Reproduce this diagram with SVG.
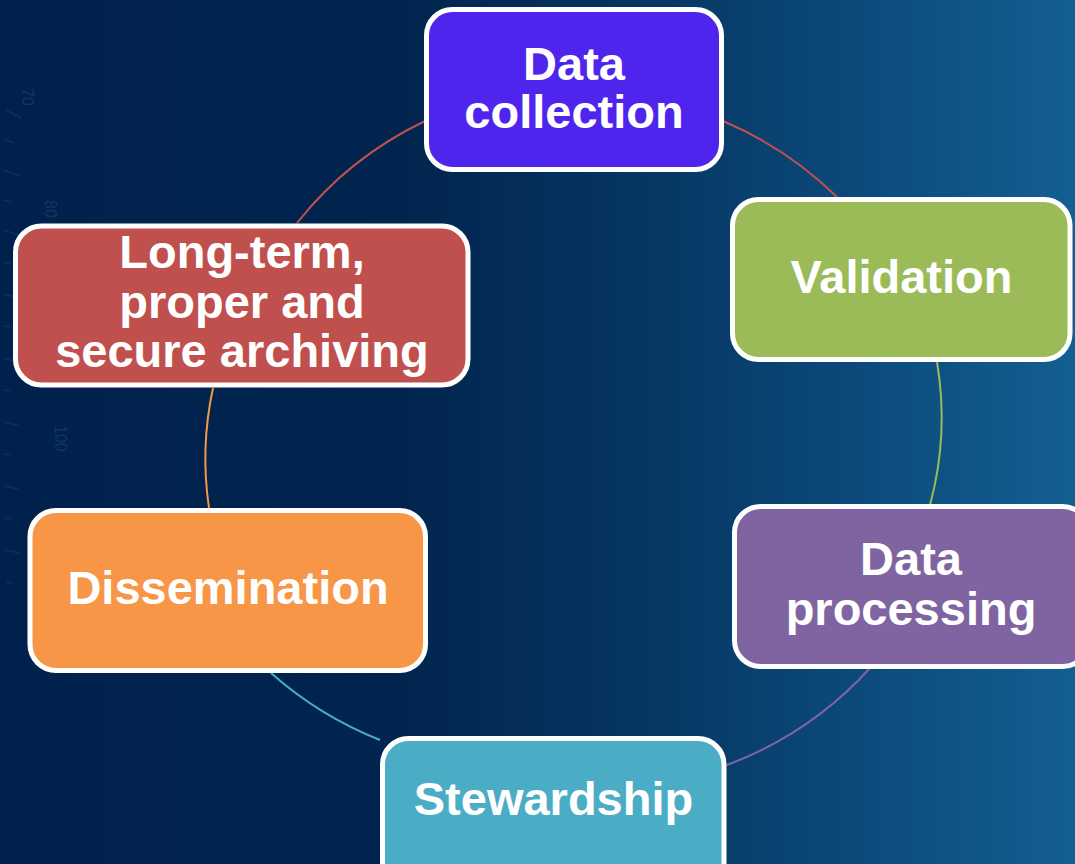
<svg xmlns="http://www.w3.org/2000/svg" width="1075" height="864" viewBox="0 0 1075 864">
  <defs>
    <linearGradient id="bg" x1="0" y1="0" x2="1" y2="0">
      <stop offset="0" stop-color="#00214c"/>
      <stop offset="0.38" stop-color="#01254f"/>
      <stop offset="0.6" stop-color="#063661"/>
      <stop offset="0.82" stop-color="#0c4c7e"/>
      <stop offset="1" stop-color="#135f92"/>
    </linearGradient>
    <style>
      .box { stroke: #ffffff; stroke-width: 5; }
      .lbl { font-family: "Liberation Sans", Arial, sans-serif; font-weight: bold; font-size: 47px; fill: #ffffff; text-anchor: middle; }
      .link { fill: none; stroke-width: 2; }
      .ruler { stroke: #3f6a96; stroke-width: 1.5; opacity: 0.2; }
      .rnum { font-family: "Liberation Sans", Arial, sans-serif; font-size: 16px; fill: #4a73a0; opacity: 0.25; }
    </style>
  </defs>

  <!-- background -->
  <rect x="0" y="0" width="1075" height="864" fill="url(#bg)"/>

  <!-- faint ruler in the background -->
  <g id="ruler">
    <path class="ruler" d="M6 110 L22 118 M5 140 L14 143 M4 170 L20 176 M4 200 L12 202 M3 230 L19 235 M3 262 L11 264 M3 294 L18 298 M3 326 L10 327 M3 358 L18 362 M3 390 L10 391 M3 422 L18 425 M3 454 L10 455 M4 486 L18 489 M4 518 L11 519 M5 550 L19 553 M6 582 L13 583"/>
    <text class="rnum" transform="translate(22 88) rotate(90)">70</text>
    <text class="rnum" transform="translate(45 200) rotate(90)">80</text>
    <text class="rnum" transform="translate(55 425) rotate(90)">100</text>
  </g>

  <!-- connectors around the cycle -->
  <g id="connectors">
    <path class="link" stroke="#c0504d" d="M297 223 A367 350 0 0 1 425 121"/>
    <path class="link" stroke="#c0504d" d="M723 121 A367 350 0 0 1 837 197"/>
    <path class="link" stroke="#9bbb59" d="M937 362 A367 350 0 0 1 930 505"/>
    <path class="link" stroke="#8064a2" d="M870 668 A367 350 0 0 1 727 765"/>
    <path class="link" stroke="#4bacc6" d="M380 740 A367 350 0 0 1 271 673"/>
    <path class="link" stroke="#f79646" d="M209 508 A367 350 0 0 1 213 388"/>
  </g>

  <g id="node-data-collection">
    <rect class="box" x="426.5" y="9.5" width="295" height="160" rx="26" fill="#4f24ec"/>
    <text class="lbl" x="574" y="80">Data</text>
    <text class="lbl" x="574" y="128">collection</text>
  </g>

  <g id="node-validation">
    <rect class="box" x="732.5" y="199.5" width="337.5" height="160" rx="26" fill="#9bbb59"/>
    <text class="lbl" x="901.5" y="293">Validation</text>
  </g>

  <g id="node-data-processing">
    <rect class="box" x="734.5" y="506.5" width="354" height="160" rx="26" fill="#8064a2"/>
    <text class="lbl" x="911" y="575">Data</text>
    <text class="lbl" x="911" y="625">processing</text>
  </g>

  <g id="node-stewardship">
    <rect class="box" x="382.5" y="738.5" width="341.5" height="160" rx="26" fill="#4bacc6"/>
    <text class="lbl" x="553.5" y="815">Stewardship</text>
  </g>

  <g id="node-dissemination">
    <rect class="box" x="30" y="510.5" width="395.5" height="160" rx="26" fill="#f79646"/>
    <text class="lbl" x="228" y="604">Dissemination</text>
  </g>

  <g id="node-archiving">
    <rect class="box" x="15.5" y="226" width="452.5" height="159" rx="26" fill="#c0504d"/>
    <text class="lbl" x="242" y="268">Long-term,</text>
    <text class="lbl" x="242" y="318">proper and</text>
    <text class="lbl" x="242" y="367">secure archiving</text>
  </g>
</svg>
